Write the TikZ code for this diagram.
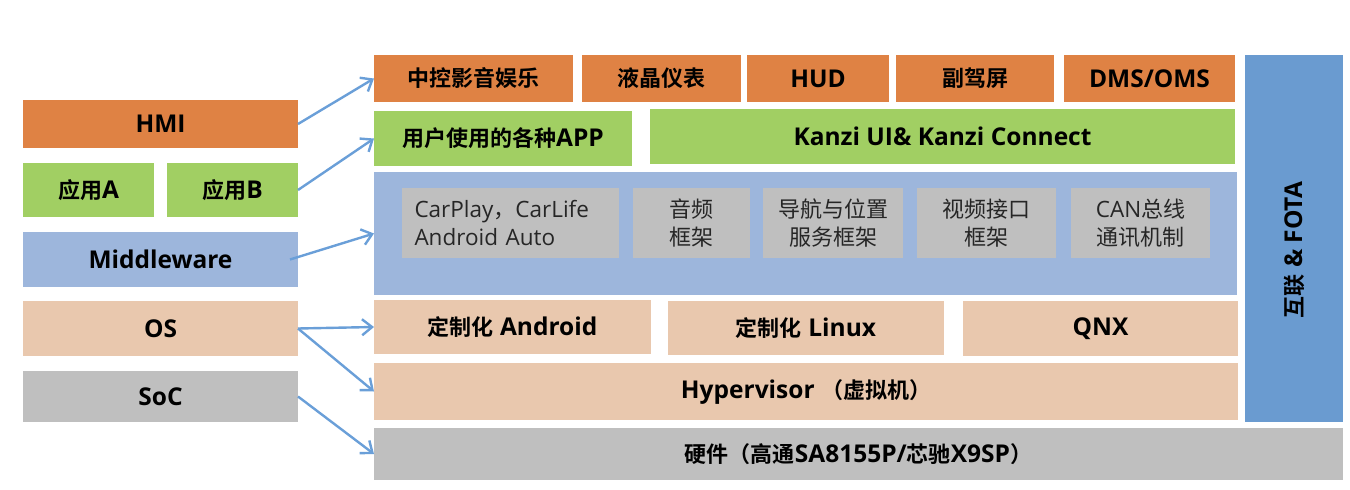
\documentclass[tikz,border=0pt]{standalone}
\usepackage{fontspec}
\setmainfont{Open Sans}
\newfontfamily\cjk{Noto Sans CJK SC}[BoldFont={Noto Sans CJK SC Bold}]
\newcommand\zh[1]{{\cjk\fontsize{22}{27}\selectfont #1}}
\usetikzlibrary{arrows.meta}
\definecolor{corange}{HTML}{DF8244}
\definecolor{cgreen}{HTML}{A1CF63}
\definecolor{clblue}{HTML}{9DB6DC}
\definecolor{cpeach}{HTML}{E9C8AE}
\definecolor{cgray}{HTML}{BFBFBF}
\definecolor{cdblue}{HTML}{6A9BD0}
\definecolor{carrow}{HTML}{6A9FD8}
\tikzset{
  box/.style={inner sep=0pt, outer sep=0pt, font=\bfseries\fontsize{24.5}{28}\selectfont, align=center},
  org/.style={box, fill=corange},
  grn/.style={box, fill=cgreen},
  lbl/.style={box, fill=clblue},
  pch/.style={box, fill=cpeach},
  gry/.style={box, fill=cgray},
  inr/.style={box, fill=cgray, font=\fontsize{22.5}{28}\selectfont, text=black!85},
  arr/.style={carrow, line width=2.4pt, -{Straight Barb[length=10pt,width=16pt,line width=2.4pt]}}
}
\newcommand\bx[7]{\node[#6, minimum width={(#4-#2)*1pt}, minimum height={(#5-#3)*1pt}] (#1) at ({(#2+#4)/2},{(#3+#5)/2}) {#7};}
\begin{document}
\begin{tikzpicture}[x=1pt,y=-1pt]
\useasboundingbox (0,0) rectangle (1350,490);
% left column
\bx{hmi}{23}{100}{298}{148}{org}{HMI}
\bx{appa}{23}{163}{154}{217}{grn}{\zh{应用}A}
\bx{appb}{167}{163}{298}{217}{grn}{\zh{应用}B}
\bx{mw}{23}{232}{298}{287}{lbl}{Middleware}
\bx{os}{23}{301}{298}{356}{pch}{OS}
\bx{soc}{23}{371}{298}{422}{gry}{SoC}
% top row
\bx{zk}{374}{55}{573}{102}{org}{\zh{中控影音娱乐}}
\bx{yj}{582}{55}{741}{102}{org}{\zh{液晶仪表}}
\bx{hud}{747}{55}{889}{102}{org}{HUD}
\bx{fj}{896}{55}{1054}{102}{org}{\zh{副驾屏}}
\bx{dms}{1064}{55}{1235}{102}{org}{DMS/OMS}
% right vertical
\bx{fota}{1245}{55}{1343}{422}{box, fill=cdblue}{}
\node[rotate=90, font=\bfseries\fontsize{24.5}{28}\selectfont] (fotat) at (1294,250) {\zh{互联} \& FOTA};
% green row
\bx{app}{374}{111}{632}{166}{grn}{\zh{用户使用的各种}APP}
\bx{kanzi}{650}{109}{1235}{164}{grn}{Kanzi UI\& Kanzi Connect}
% middleware
\bx{mwbox}{374}{172}{1237}{295}{lbl}{}
\bx{cp}{402}{188}{619}{258}{inr, text width=192pt, align=left}{CarPlay\zh{，}CarLife\\Android Auto}
\bx{yp}{633}{188}{750}{258}{inr}{\zh{音频}\\\zh{框架}}
\bx{dh}{763}{188}{903}{258}{inr}{\zh{导航与位置}\\\zh{服务框架}}
\bx{sp}{917}{188}{1056}{258}{inr}{\zh{视频接口}\\\zh{框架}}
\bx{can}{1071}{188}{1210}{258}{inr}{CAN\zh{总线}\\\zh{通讯机制}}
% os row
\bx{and}{374}{300}{651}{354}{pch}{\zh{定制化} Android}
\bx{lin}{668}{301}{944}{355}{pch}{\zh{定制化} Linux}
\bx{qnx}{963}{301}{1238}{356}{pch}{QNX}
\bx{hyp}{374}{363}{1238}{420}{pch}{Hypervisor \zh{（虚拟机）}}
\bx{hw}{374}{428}{1343}{480}{gry}{\zh{硬件（高通}SA8155P/\zh{芯驰}X9SP\zh{）}}
% arrows
\draw[arr] (hmi.east) -- (zk.west);
\draw[arr] (appb.east) -- (app.west);
\draw[arr] ([xshift=-8pt]mw.east) -- (mwbox.west);
\draw[arr] (os.east) -- (and.west);
\draw[arr] (os.east) -- (hyp.west);
\draw[arr] (soc.east) -- (hw.west);
\end{tikzpicture}
\end{document}
